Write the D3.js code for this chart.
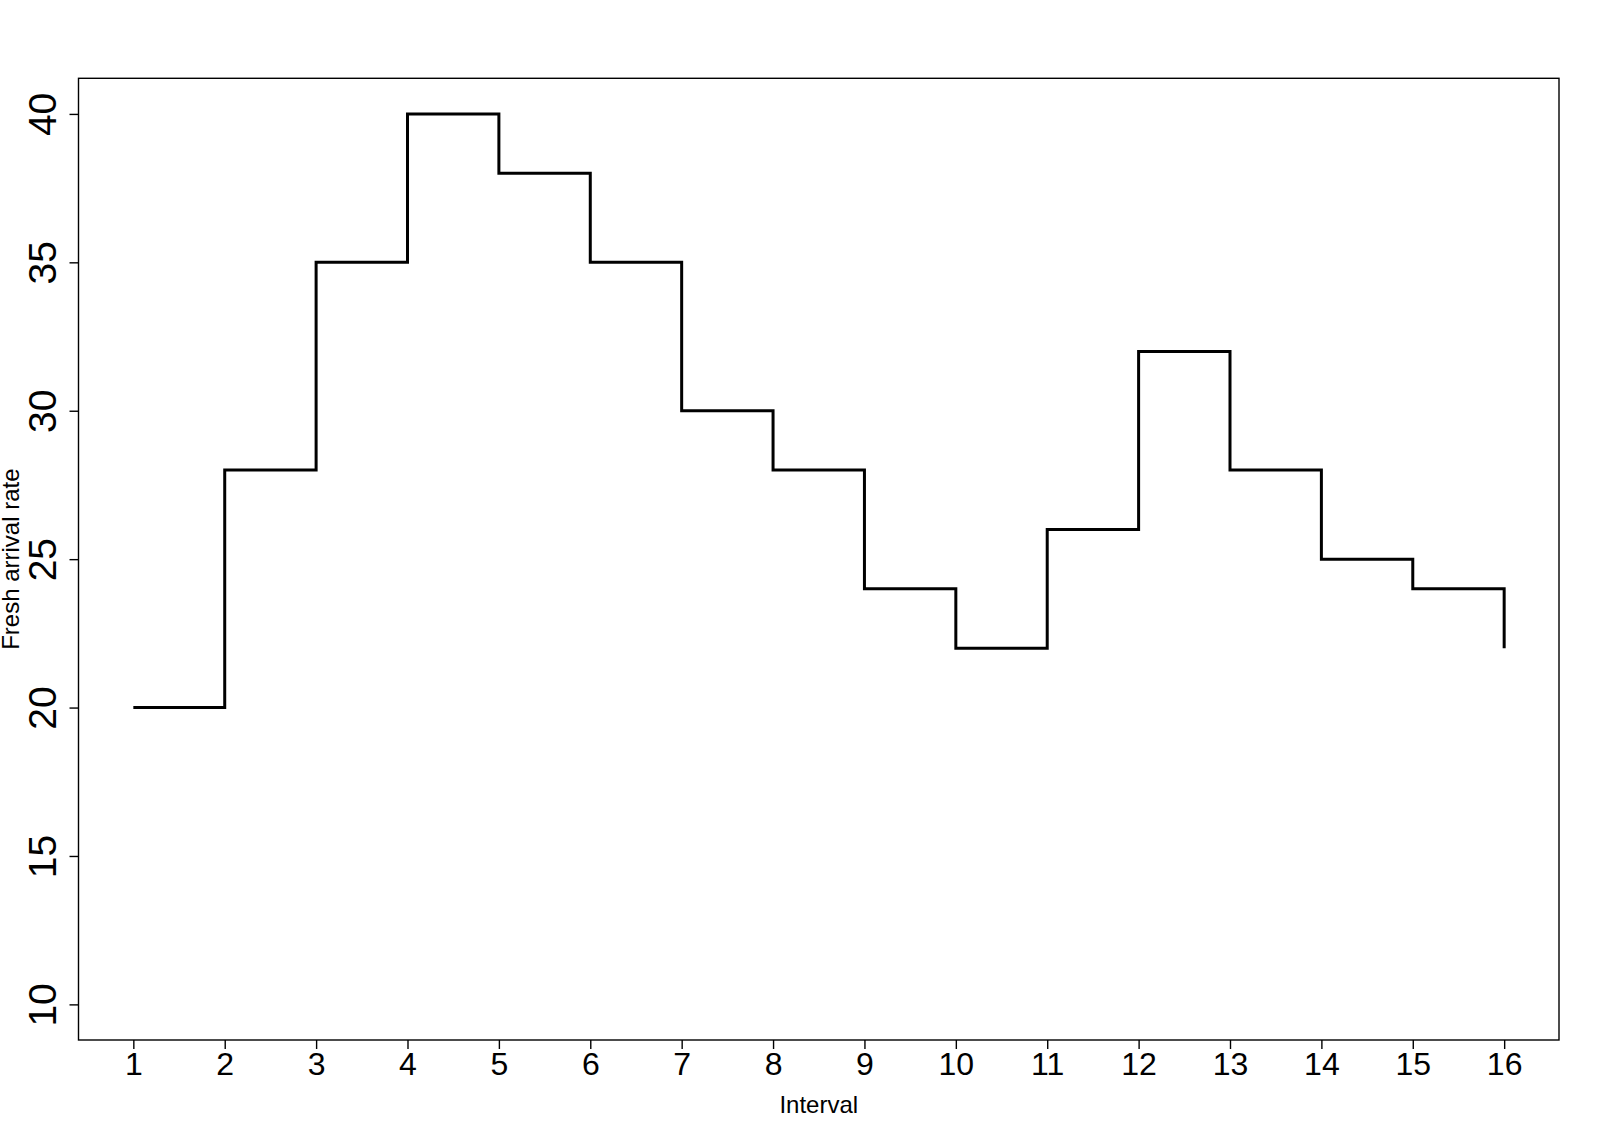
<!DOCTYPE html>
<html>
<head>
<meta charset="utf-8">
<script src="https://cdn.jsdelivr.net/npm/d3@7"></script>
<style>
  html, body { margin: 0; padding: 0; background: #fff; }
  svg { display: block; }
  text { font-family: "Liberation Sans", Arial, sans-serif; fill: #000; }
</style>
</head>
<body>
<script>
const intervals = [1, 2, 3, 4, 5, 6, 7, 8, 9, 10, 11, 12, 13, 14, 15, 16];
const rates = [20, 28, 35, 40, 38, 35, 30, 28, 24, 22, 26, 32, 28, 25, 24, 22];
const yTicks = [10, 15, 20, 25, 30, 35, 40];
const xTicks = intervals;
const xTitle = "Interval";
const yTitle = "Fresh arrival rate";

const W = 1600, H = 1138;
const mLeft = 78.5, mRight = 1559, mTop = 78.3, mBottom = 1040;

const svg = d3.select("body").append("svg").attr("width", W).attr("height", H);

const x = d3.scaleLinear().domain([0.4, 16.6]).range([mLeft, mRight]);
const y = d3.scaleLinear().domain([8.8, 41.2]).range([mBottom, mTop]);

// plot box
svg.append("rect")
  .attr("x", mLeft).attr("y", mTop)
  .attr("width", mRight - mLeft).attr("height", mBottom - mTop)
  .attr("fill", "none").attr("stroke", "#000").attr("stroke-width", 1.4);

// x axis
const xAxis = svg.append("g").attr("transform", `translate(0,${mBottom})`)
  .call(d3.axisBottom(x).tickValues(xTicks).tickSize(9).tickSizeOuter(0).tickPadding(4));
xAxis.select(".domain").remove();
xAxis.selectAll(".tick line").attr("stroke", "#000").attr("stroke-width", 1.4);
xAxis.selectAll(".tick text")
  .attr("font-size", 32).attr("dy", null).attr("y", 35)
  .style("font-family", "Liberation Sans, Arial, sans-serif");

// y axis
const yAxis = svg.append("g").attr("transform", `translate(${mLeft},0)`)
  .call(d3.axisLeft(y).tickValues(yTicks).tickSize(9).tickSizeOuter(0));
yAxis.select(".domain").remove();
yAxis.selectAll(".tick line").attr("stroke", "#000").attr("stroke-width", 1.4);
yAxis.selectAll(".tick text")
  .attr("x", null).attr("dy", null)
  .attr("font-size", 39)
  .attr("text-anchor", "middle")
  .attr("transform", "translate(-22.5,0) rotate(-90)")
  .style("font-family", "Liberation Sans, Arial, sans-serif");

// step line
const line = d3.line()
  .x((d, i) => x(intervals[i]))
  .y(d => y(d))
  .curve(d3.curveStepAfter);

svg.append("path")
  .datum(rates)
  .attr("d", line)
  .attr("fill", "none")
  .attr("stroke", "#000")
  .attr("stroke-width", 3)
  .attr("stroke-linejoin", "miter")
  .attr("stroke-linecap", "butt");

// titles
svg.append("text")
  .attr("x", (mLeft + mRight) / 2).attr("y", 1112.5)
  .attr("text-anchor", "middle").attr("font-size", 24)
  .text(xTitle);

svg.append("text")
  .attr("transform", `translate(19,${(mTop + mBottom) / 2}) rotate(-90)`)
  .attr("text-anchor", "middle").attr("font-size", 24)
  .text(yTitle);
</script>
</body>
</html>
